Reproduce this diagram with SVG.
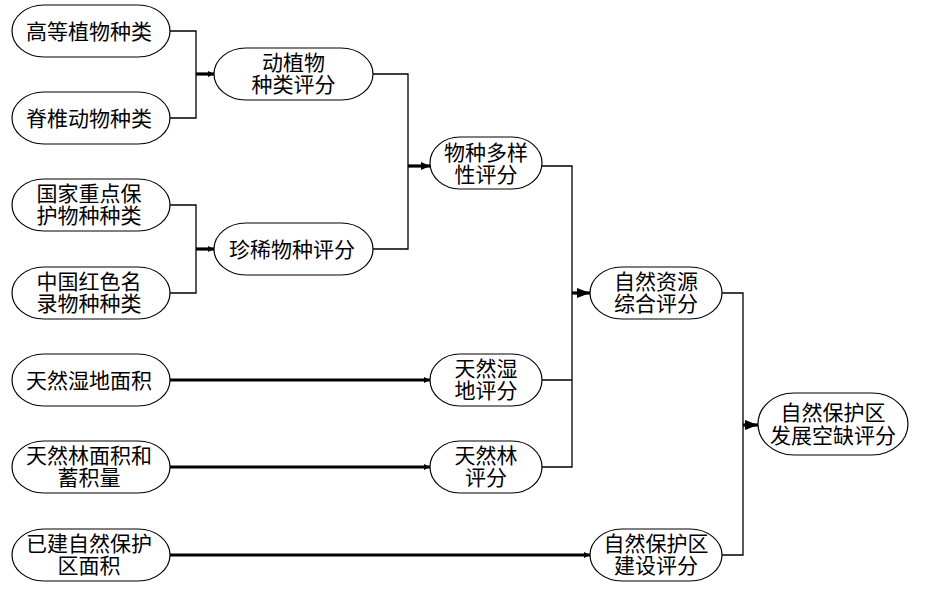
<svg xmlns="http://www.w3.org/2000/svg" width="930" height="589" viewBox="0 0 930 589">
<style>
  .node rect{fill:#fff;stroke:#000;stroke-width:1.2}
  .node text{font-family:"Liberation Serif","Noto Sans CJK SC",serif;font-size:21px;fill:#000;text-anchor:middle}
  .thin{fill:none;stroke:#000;stroke-width:1.3}
  .thick{fill:none;stroke:#000;stroke-width:3.2}
</style>
<defs>
  <marker id="ahS" markerUnits="userSpaceOnUse" markerWidth="6" markerHeight="6" refX="6" refY="3" orient="auto">
    <path d="M0,0 L6,3 L0,6 z" fill="#000"/>
  </marker>
  <marker id="ahM" markerUnits="userSpaceOnUse" markerWidth="9" markerHeight="8" refX="9" refY="4" orient="auto">
    <path d="M0,0 L9,4 L0,8 z" fill="#000"/>
  </marker>
  <marker id="ahL" markerUnits="userSpaceOnUse" markerWidth="13" markerHeight="10" refX="13" refY="5" orient="auto">
    <path d="M0,0 L13,5 L0,10 z" fill="#000"/>
  </marker>
</defs>
<rect width="930" height="589" fill="#fff"/>
<g id="connectors">
  <path class="thin" d="M170,31 H196 V118 H170"/>
  <path class="thick" d="M196,74 H214" marker-end="url(#ahS)"/>
  <path class="thin" d="M170,205 H196 V293 H170"/>
  <path class="thick" d="M196,249 H214" marker-end="url(#ahS)"/>
  <path class="thin" d="M373,74 H408 V249 H373"/>
  <path class="thick" d="M408,166 H430" marker-end="url(#ahM)"/>
  <path class="thin" d="M542,166 H572 V467 H542 M542,380 H572"/>
  <path class="thick" d="M572,293 H590" marker-end="url(#ahL)"/>
  <path class="thin" d="M722,293 H743 V555 H722"/>
  <path class="thick" d="M743,425 H758" marker-end="url(#ahL)"/>
  <path class="thick" d="M170,380 H430" marker-end="url(#ahS)"/>
  <path class="thick" d="M170,467 H430" marker-end="url(#ahS)"/>
  <path class="thick" d="M170,555 H590" marker-end="url(#ahS)"/>
</g>
<g id="n1" class="node"><rect x="12" y="5" width="158" height="52" rx="32" ry="26"/><text x="89" y="39">高等植物种类</text></g>
<g id="n2" class="node"><rect x="12" y="92" width="158" height="52" rx="32" ry="26"/><text x="89" y="126">脊椎动物种类</text></g>
<g id="n3" class="node"><rect x="12" y="179" width="158" height="52" rx="32" ry="26"/><text x="89" y="201">国家重点保</text><text x="89" y="223">护物种种类</text></g>
<g id="n4" class="node"><rect x="12" y="267" width="158" height="52" rx="32" ry="26"/><text x="89" y="289">中国红色名</text><text x="89" y="311">录物种种类</text></g>
<g id="n5" class="node"><rect x="12" y="354" width="158" height="52" rx="32" ry="26"/><text x="89" y="388">天然湿地面积</text></g>
<g id="n6" class="node"><rect x="12" y="441" width="158" height="52" rx="32" ry="26"/><text x="89" y="463">天然林面积和</text><text x="89" y="485">蓄积量</text></g>
<g id="n7" class="node"><rect x="12" y="529" width="158" height="52" rx="32" ry="26"/><text x="89" y="551">已建自然保护</text><text x="89" y="573">区面积</text></g>
<g id="m1" class="node"><rect x="214" y="48" width="159" height="52" rx="32" ry="26"/><text x="293.5" y="70">动植物</text><text x="293.5" y="92">种类评分</text></g>
<g id="m2" class="node"><rect x="214" y="223" width="159" height="52" rx="32" ry="26"/><text x="292" y="257">珍稀物种评分</text></g>
<g id="p1" class="node"><rect x="430" y="137" width="112" height="52" rx="30" ry="26"/><text x="486" y="160">物种多样</text><text x="486" y="182">性评分</text></g>
<g id="p2" class="node"><rect x="430" y="354" width="112" height="52" rx="30" ry="26"/><text x="486" y="376">天然湿</text><text x="486" y="398">地评分</text></g>
<g id="p3" class="node"><rect x="430" y="441" width="112" height="52" rx="30" ry="26"/><text x="486" y="463">天然林</text><text x="486" y="485">评分</text></g>
<g id="q1" class="node"><rect x="590" y="267" width="132" height="52" rx="32" ry="26"/><text x="656" y="289">自然资源</text><text x="656" y="311">综合评分</text></g>
<g id="q2" class="node"><rect x="590" y="529" width="132" height="52" rx="32" ry="26"/><text x="656" y="551">自然保护区</text><text x="656" y="573">建设评分</text></g>
<g id="r1" class="node"><rect x="758" y="393" width="150" height="62" rx="36" ry="31"/><text x="833" y="420">自然保护区</text><text x="833" y="443">发展空缺评分</text></g>
</svg>
